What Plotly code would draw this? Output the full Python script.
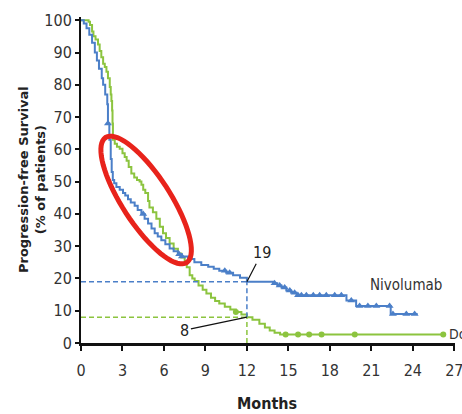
import numpy as np
import plotly.graph_objects as go

# ---------------- data ----------------
nivo_months = [0, 0.2, 0.4, 0.6, 0.8, 1.0, 1.15, 1.3, 1.5, 1.6, 1.75, 1.9, 1.95, 2.05, 2.15, 2.22, 2.3, 2.4,
               2.56, 2.8, 3.04, 3.2, 3.4, 3.6, 3.88, 4.1, 4.37, 4.6, 4.85, 5.1, 5.33, 5.55, 5.81, 6.1,
               6.41, 6.7, 7.01, 7.3, 7.74, 8.2, 8.7, 9.2, 9.6, 10.0, 10.5, 11.0, 11.5, 12.0, 13.9,
               14.2, 14.5, 14.85, 15.2, 15.6, 19.2, 19.9, 22.4, 24.35]
nivo_pfs = [100, 99, 97.5, 95.5, 93, 90, 87.5, 85, 82, 80, 77, 74, 68, 63, 57, 53, 50.5, 49.5,
            48.3, 47.5, 46.5, 45.7, 44.5, 43.5, 42.5, 41.2, 40, 38.5, 37, 35.5, 34, 33, 31.8, 30.6,
            29.3, 28.4, 27.5, 26.8, 26, 25, 24.2, 23.6, 23, 22.4, 21.8, 21, 20.2, 19, 18.5,
            17.8, 17.2, 16.3, 15.6, 14.8, 13.2, 11.5, 9.0, 9.0]

doce_months = [0, 0.55, 0.65, 0.8, 0.9, 1.05, 1.23, 1.35, 1.47, 1.6, 1.72, 1.84, 1.95, 2.08, 2.15,
               2.2, 2.25, 2.28, 2.31, 2.44, 2.6, 2.8, 3.0, 3.16, 3.3, 3.45, 3.64, 3.85, 4.05, 4.24,
               4.37, 4.5, 4.65, 4.85, 4.95, 5.2, 5.45, 5.7, 5.93, 6.15, 6.41, 6.7, 7.01, 7.25, 7.5,
               7.65, 7.86, 8.05, 8.22, 8.5, 8.8, 9.07, 9.4, 9.7, 10.0, 10.4, 10.8, 11.2, 11.6, 12.0,
               12.4, 12.9, 13.3, 13.65, 14.0, 14.4, 26.2]
doce_pfs = [100, 99.5, 98.5, 96.5, 95, 94, 92.5, 90.5, 88.5, 86.5, 85.5, 84, 82, 79.3, 77,
            75, 72, 68, 63, 61.7, 60.8, 60.2, 58.8, 57.6, 56.5, 54.5, 52.5, 51.3, 50.5, 50,
            49, 47.5, 46.5, 44, 42, 40.5, 38.5, 36, 34, 32.5, 30.8, 29.2, 27.7, 26.5, 25.3,
            23.5, 21, 20, 19.2, 17.8, 16.5, 15.3, 14, 13, 12.2, 11.2, 10.4, 9.6, 8.8, 8.0,
            7.2, 6.0, 4.8, 3.9, 3.2, 2.6, 2.6]

nivo_censored = [1.95, 4.5, 7.1, 7.3, 10.4, 10.75, 14.0, 14.37, 14.73, 15.1, 15.45, 15.7, 15.94,
                 16.3, 16.8, 17.26, 17.74, 18.35, 18.83, 19.55, 20.15, 20.75, 21.36, 22.32, 22.56,
                 23.53, 24.13]
doce_censored = [11.2, 14.8, 15.7, 16.5, 17.4, 19.8, 26.2]

landmark_month = 12
nivo_at_12 = 19
doce_at_12 = 8

x_ticks = list(range(0, 28, 3))
y_ticks = list(range(0, 101, 10))

BLUE = "#4b7fc8"
GREEN = "#8cc43f"
RED = "#e8231b"
NARROW = "Liberation Sans Narrow, DejaVu Sans Condensed, Arial Narrow, sans-serif"


def step_value(times, vals, t):
    v = vals[0]
    for tt, vv in zip(times, vals):
        if tt <= t:
            v = vv
        else:
            break
    return v


fig = go.Figure()

fig.add_trace(go.Scatter(x=doce_months, y=doce_pfs, mode="lines", line_shape="hv",
                         line=dict(color=GREEN, width=2), name="Docetaxel", showlegend=False))
fig.add_trace(go.Scatter(x=nivo_months, y=nivo_pfs, mode="lines", line_shape="hv",
                         line=dict(color=BLUE, width=2), name="Nivolumab", showlegend=False))

fig.add_trace(go.Scatter(x=doce_censored, y=[step_value(doce_months, doce_pfs, t) for t in doce_censored],
                         mode="markers", marker=dict(symbol="circle", size=6, color=GREEN),
                         showlegend=False))
fig.add_trace(go.Scatter(x=nivo_censored, y=[step_value(nivo_months, nivo_pfs, t) for t in nivo_censored],
                         mode="markers", marker=dict(symbol="triangle-up", size=7, color=BLUE),
                         showlegend=False))

# landmark dashed guides
DASH = "5px,3px"
fig.add_shape(type="line", x0=0, x1=landmark_month, y0=nivo_at_12, y1=nivo_at_12,
              line=dict(color=BLUE, width=1.5, dash=DASH))
fig.add_shape(type="line", x0=0, x1=landmark_month, y0=doce_at_12, y1=doce_at_12,
              line=dict(color=GREEN, width=1.5, dash=DASH))
fig.add_shape(type="line", x0=landmark_month, x1=landmark_month, y0=doce_at_12, y1=nivo_at_12,
              line=dict(color=BLUE, width=1.5, dash=DASH))
fig.add_shape(type="line", x0=landmark_month, x1=landmark_month, y0=0, y1=doce_at_12,
              line=dict(color=GREEN, width=1.5, dash=DASH))

# red highlight ellipse
W, H = 462, 414
ML, MR, MT, MB = 81, 7, 17, 71
XR = [0, 27.05]
YR = [0, 101]
pxm = (W - ML - MR) / (XR[1] - XR[0])
pxp = (H - MT - MB) / (YR[1] - YR[0])
cx, cy = 4.71, 44.3
a_px, b_px = 74.5, 24.0
phi = np.arctan2(-125, 81)
th = np.linspace(0, 2 * np.pi, 73)
u, v = a_px * np.cos(th), b_px * np.sin(th)
ex = cx + (u * np.cos(phi) - v * np.sin(phi)) / pxm
ey = cy + (u * np.sin(phi) + v * np.cos(phi)) / pxp
path = "M " + " L ".join(f"{x:.4f},{y:.4f}" for x, y in zip(ex, ey)) + " Z"
fig.add_shape(type="path", path=path, xref="x", yref="y", line=dict(color=RED, width=5))

ann_font = dict(family=NARROW, size=16, color="#222")
fig.add_annotation(x=landmark_month, y=nivo_at_12, text="19", showarrow=True, arrowhead=0,
                   arrowwidth=1.2, arrowcolor="#111", ax=15, ay=-29, font=ann_font)
fig.add_annotation(x=landmark_month, y=doce_at_12, text="8", showarrow=True, arrowhead=0,
                   arrowwidth=1.2, arrowcolor="#111", ax=-62, ay=13, font=ann_font)
fig.add_annotation(x=20.73, y=17.9, text="Nivolumab", showarrow=False, xanchor="left",
                   font=dict(family=NARROW, size=15, color="#333"))
fig.add_annotation(x=26.45, y=2.9, text="Docetaxel", showarrow=False, xanchor="left",
                   font=dict(family=NARROW, size=14, color="#333"))

fig.add_annotation(xref="paper", yref="paper", x=(32 - ML) / (W - ML - MR), y=0.5,
                   text="Progression-free Survival<br>(% of patients)", textangle=-90,
                   showarrow=False, xanchor="center", yanchor="middle",
                   font=dict(family="DejaVu Sans", size=13, color="#222", weight="bold"))
fig.add_annotation(xref="paper", yref="paper", x=(267 - ML) / (W - ML - MR), y=-(403 - (H - MB)) / (H - MT - MB),
                   text="<b>Months</b>", showarrow=False, xanchor="center", yanchor="middle",
                   font=dict(family=NARROW, size=16, color="#222"))

fig.update_xaxes(range=XR, tickvals=x_ticks, ticktext=[str(t) for t in x_ticks],
                 showline=True, linecolor="#111", linewidth=2.5, ticks="outside", ticklen=5,
                 tickwidth=1.5, tickcolor="#111", showgrid=False, zeroline=False,
                 tickfont=dict(family=NARROW, size=16, color="#333"), ticklabelstandoff=6,
                 ticklabeloverflow="allow")
fig.update_yaxes(range=YR, tickvals=y_ticks, ticktext=[str(t) for t in y_ticks],
                 showline=True, linecolor="#111", linewidth=2, ticks="outside", ticklen=4,
                 tickwidth=1.5, tickcolor="#111", showgrid=False, zeroline=False,
                 tickfont=dict(family=NARROW, size=16, color="#333"))

fig.update_layout(width=W, height=H, margin=dict(l=ML, r=MR, t=MT, b=MB, autoexpand=False),
                  plot_bgcolor="white", paper_bgcolor="white", showlegend=False)

fig.write_html("out.html")
